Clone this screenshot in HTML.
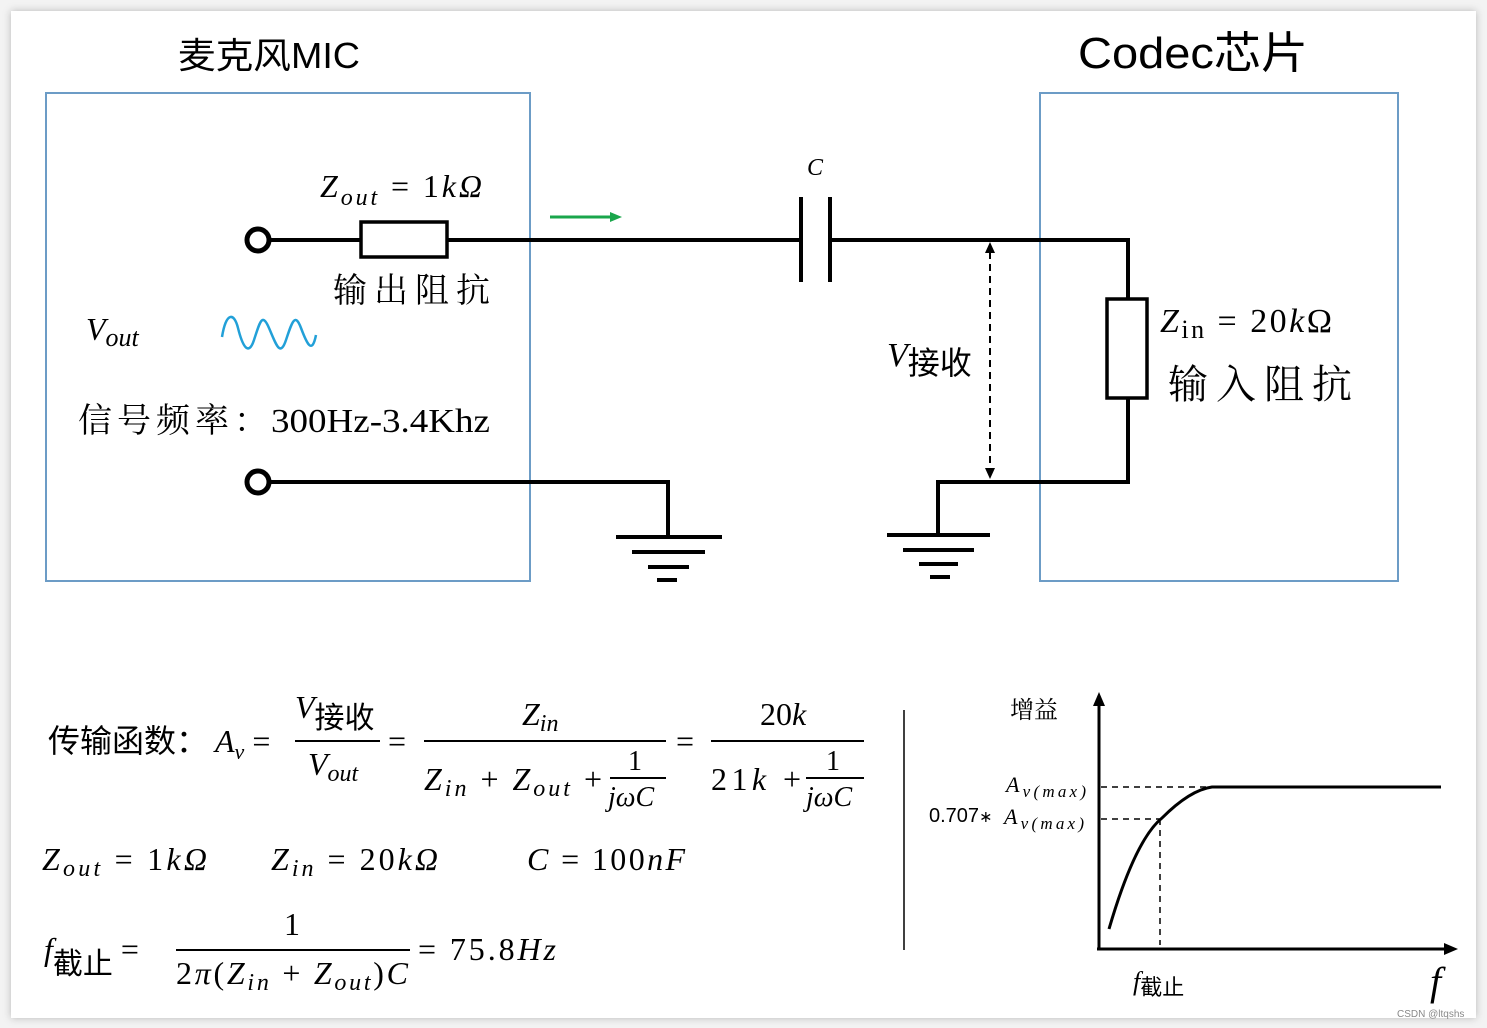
<!DOCTYPE html>
<html><head><meta charset="utf-8"><style>
html,body{margin:0;padding:0;background:#e9e9e9;}
svg{display:block;}
text{font-family:"Liberation Serif","Noto Serif CJK SC",serif;}
.s{font-family:"Liberation Sans","Noto Sans CJK SC",sans-serif;}
.i{font-style:italic;}
</style></head><body>
<svg width="1487" height="1028" viewBox="0 0 1487 1028" xmlns="http://www.w3.org/2000/svg">
<defs><filter id="sh"><feDropShadow dx="0" dy="0" stdDeviation="4" flood-color="#000" flood-opacity="0.25"/></filter></defs>
<rect x="0" y="0" width="1487" height="1028" fill="#f3f3f3"/>
<rect x="11" y="11" width="1465" height="1007" fill="#fff" filter="url(#sh)"/>
<text x="178" y="68" class="s" font-size="36" textLength="182" lengthAdjust="spacingAndGlyphs">麦克风MIC</text>
<text x="1078" y="68" class="s" font-size="44" textLength="230" lengthAdjust="spacingAndGlyphs">Codec芯片</text>
<rect x="46" y="93" width="484" height="488" fill="none" stroke="#6c9cc6" stroke-width="2"/>
<rect x="1040" y="93" width="358" height="488" fill="none" stroke="#6c9cc6" stroke-width="2"/>
<g stroke="#000" stroke-width="4" fill="none">
<circle cx="258" cy="240" r="11" stroke-width="5"/>
<circle cx="258" cy="482" r="11" stroke-width="5"/>
<line x1="270" y1="240" x2="361" y2="240"/>
<rect x="361" y="222" width="86" height="35" stroke-width="3.5"/>
<line x1="447" y1="240" x2="801" y2="240"/>
<line x1="801" y1="197" x2="801" y2="282"/>
<line x1="830" y1="197" x2="830" y2="282"/>
<line x1="830" y1="240" x2="1130" y2="240"/>
<line x1="1128" y1="238" x2="1128" y2="299"/>
<rect x="1107" y="299" width="40" height="99" stroke-width="3.5"/>
<line x1="1128" y1="398" x2="1128" y2="484"/>
<line x1="938" y1="482" x2="1130" y2="482"/>
<line x1="938" y1="480" x2="938" y2="535"/>
<line x1="270" y1="482" x2="670" y2="482"/>
<line x1="668" y1="480" x2="668" y2="537"/>
<line x1="616" y1="537" x2="722" y2="537"/>
<line x1="632" y1="552" x2="705" y2="552"/>
<line x1="648" y1="567" x2="689" y2="567"/>
<line x1="657" y1="580" x2="677" y2="580"/>
<line x1="887" y1="535" x2="990" y2="535"/>
<line x1="903" y1="550" x2="974" y2="550"/>
<line x1="919" y1="564" x2="958" y2="564"/>
<line x1="930" y1="577" x2="950" y2="577"/>
</g>
<line x1="550" y1="217" x2="612" y2="217" stroke="#1aa64b" stroke-width="3"/>
<polygon points="622,217 610,212 610,222" fill="#1aa64b"/>
<line x1="990" y1="252" x2="990" y2="470" stroke="#000" stroke-width="2" stroke-dasharray="7,5"/>
<polygon points="990,242 985,253 995,253" fill="#000"/>
<polygon points="990,479 985,468 995,468" fill="#000"/>
<path d="M222,337 C226,312 234,312 238,328 S248,358 254,340 S262,312 269,328 S280,358 286,340 S295,312 301,328 S312,355 316,335" fill="none" stroke="#22a0d8" stroke-width="2.5"/>
<text x="320" y="197" font-size="32" class="i" textLength="162" lengthAdjust="spacing">Z<tspan font-size="24" dy="8">out</tspan><tspan dy="-8" font-style="normal"> = 1</tspan>kΩ</text>
<text x="333" y="302" font-size="34" textLength="157" lengthAdjust="spacing">输出阻抗</text>
<text x="86" y="340" font-size="32" class="i">V<tspan font-size="26" dy="6">out</tspan></text>
<text x="78" y="432" font-size="34" textLength="190" lengthAdjust="spacing">信号频率：</text>
<text x="271" y="432" font-size="34" textLength="219" lengthAdjust="spacingAndGlyphs">300Hz-3.4Khz</text>
<text x="807" y="175" font-size="24" class="i">C</text>
<text x="887" y="366" font-size="34"><tspan class="i">V</tspan><tspan dy="8" font-size="32" class="s">接收</tspan></text>
<text x="1160" y="332" font-size="34" textLength="172" lengthAdjust="spacing"><tspan class="i">Z</tspan><tspan font-size="26" dy="6">in</tspan><tspan dy="-6"> = 20</tspan><tspan class="i">k</tspan>Ω</text>
<text x="1168" y="398" font-size="40" textLength="184" lengthAdjust="spacing">输入阻抗</text>
<g class="i" font-size="32">
<text x="48" y="752" font-style="normal" class="s" font-size="32">传输函数：</text>
<text x="215" y="752">A<tspan font-size="22" dy="7">v</tspan><tspan dy="-7" font-style="normal"> =</tspan></text>
<text x="295" y="718">V<tspan class="s" font-style="normal" font-size="30" dy="10">接收</tspan></text>
<line x1="295" y1="741" x2="380" y2="741" stroke="#000" stroke-width="2"/>
<text x="308" y="775">V<tspan font-size="24" dy="6">out</tspan></text>
<text x="388" y="752" font-style="normal">=</text>
<text x="522" y="725">Z<tspan font-size="24" dy="6">in</tspan></text>
<line x1="424" y1="741" x2="666" y2="741" stroke="#000" stroke-width="2"/>
<text x="424" y="790" textLength="178" lengthAdjust="spacing">Z<tspan font-size="24" dy="6">in</tspan><tspan font-style="normal" dy="-6"> + </tspan>Z<tspan font-size="24" dy="6">out</tspan><tspan font-style="normal" dy="-6"> +</tspan></text>
<text x="628" y="770" font-style="normal" font-size="28">1</text>
<line x1="610" y1="778" x2="666" y2="778" stroke="#000" stroke-width="2"/>
<text x="608" y="806" font-size="28">jωC</text>
<text x="676" y="752" font-style="normal">=</text>
<text x="760" y="725"><tspan font-style="normal">20</tspan>k</text>
<line x1="711" y1="741" x2="864" y2="741" stroke="#000" stroke-width="2"/>
<text x="711" y="790" textLength="90" lengthAdjust="spacing"><tspan font-style="normal">21</tspan>k<tspan font-style="normal"> +</tspan></text>
<text x="826" y="770" font-style="normal" font-size="28">1</text>
<line x1="806" y1="778" x2="864" y2="778" stroke="#000" stroke-width="2"/>
<text x="806" y="806" font-size="28">jωC</text>
<text x="42" y="870" textLength="165" lengthAdjust="spacing">Z<tspan font-size="24" dy="6">out</tspan><tspan font-style="normal" dy="-6"> = 1</tspan>kΩ</text>
<text x="271" y="870" textLength="167" lengthAdjust="spacing">Z<tspan font-size="24" dy="6">in</tspan><tspan font-style="normal" dy="-6"> = 20</tspan>kΩ</text>
<text x="527" y="870" textLength="158" lengthAdjust="spacing">C<tspan font-style="normal"> = 100</tspan>nF</text>
<text x="44" y="960">f<tspan class="s" font-style="normal" font-size="30" dy="14">截止</tspan><tspan font-style="normal" dy="-14"> =</tspan></text>
<text x="284" y="935" font-style="normal">1</text>
<line x1="176" y1="950" x2="410" y2="950" stroke="#000" stroke-width="2"/>
<text x="176" y="984" textLength="232" lengthAdjust="spacing"><tspan font-style="normal">2</tspan>π<tspan font-style="normal">(</tspan>Z<tspan font-size="24" dy="6">in</tspan><tspan font-style="normal" dy="-6"> + </tspan>Z<tspan font-size="24" dy="6">out</tspan><tspan font-style="normal" dy="-6">)</tspan>C</text>
<text x="418" y="960" textLength="138" lengthAdjust="spacing"><tspan font-style="normal">= 75.8</tspan>Hz</text>
</g>
<line x1="904" y1="710" x2="904" y2="950" stroke="#000" stroke-width="1.5"/>
<line x1="1099" y1="700" x2="1099" y2="950" stroke="#000" stroke-width="3"/>
<polygon points="1099,692 1093,706 1105,706" fill="#000"/>
<line x1="1097" y1="949" x2="1448" y2="949" stroke="#000" stroke-width="3"/>
<polygon points="1458,949 1444,943 1444,955" fill="#000"/>
<path d="M1109,929 Q1135,840 1162,818 Q1190,790 1212,787 L1441,787" fill="none" stroke="#000" stroke-width="3"/>
<g stroke="#000" stroke-width="1.5" stroke-dasharray="6,5" fill="none">
<line x1="1101" y1="787" x2="1210" y2="787"/>
<line x1="1101" y1="819" x2="1160" y2="819"/>
<line x1="1160" y1="819" x2="1160" y2="945"/>
</g>
<text x="1010" y="718" font-size="24">增益</text>
<text x="1006" y="792" font-size="22" class="i" textLength="80" lengthAdjust="spacing">A<tspan font-size="17" dy="5">v(max)</tspan></text>
<text x="929" y="822" font-size="20" class="s">0.707<tspan font-size="16">∗</tspan></text>
<text x="1004" y="824" font-size="22" class="i" textLength="80" lengthAdjust="spacing">A<tspan font-size="17" dy="5">v(max)</tspan></text>
<text x="1133" y="990" font-size="26" class="i">f<tspan class="s" font-style="normal" font-size="22" dy="5">截止</tspan></text>
<text x="1430" y="995" font-size="40" class="i">f</text>
<text x="1397" y="1017" font-size="10" class="s" fill="#888">CSDN @ltqshs</text>
</svg>
</body></html>
